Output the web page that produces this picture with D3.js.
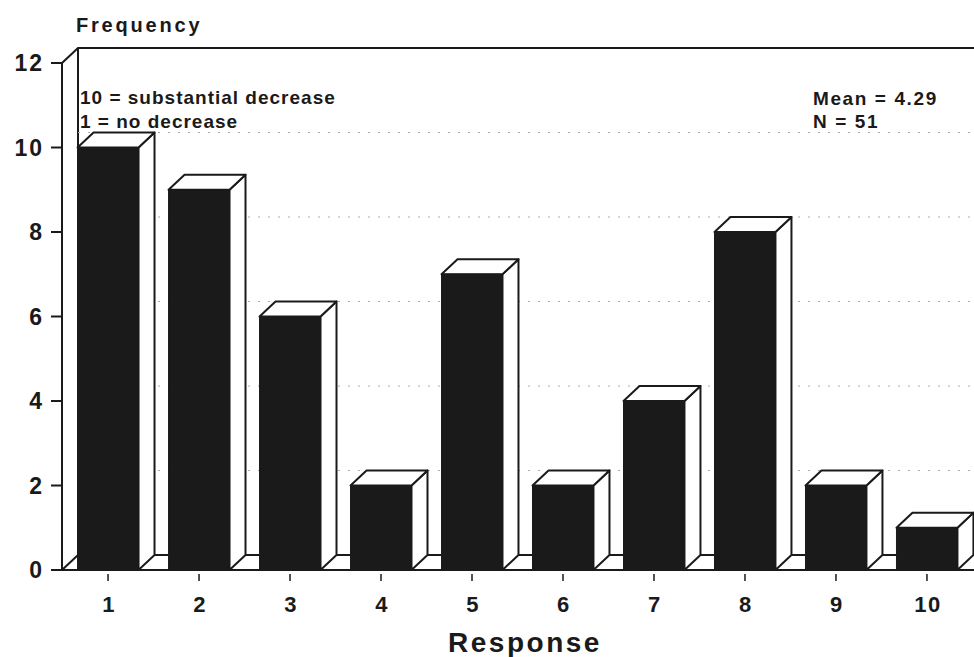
<!DOCTYPE html>
<html>
<head>
<meta charset="utf-8">
<script src="https://cdn.jsdelivr.net/npm/d3@7"></script>
<style>
body{margin:0;background:#fff;}
text{font-family:"Liberation Sans",Arial,sans-serif;font-weight:bold;fill:#1a1a1a;}
</style>
</head>
<body>
<div id="chart"></div>
<script>
// chart data
var categories = ["1","2","3","4","5","6","7","8","9","10"];
var frequency = [10,9,6,2,7,2,4,8,2,1];
var yTicks = [0,2,4,6,8,10,12];
var notesLeft = ["10 = substantial decrease","1 = no decrease"];
var notesRight = ["Mean = 4.29","N = 51"];

var W = 974, H = 657;
var dx = 16, dy = -15; // depth of the 3d look
var ink = "#1a1a1a";

var svg = d3.select("#chart").append("svg")
	.attr("width", W).attr("height", H);

var x = d3.scaleBand().domain(categories).range([63, 972])
	.paddingInner(0.33).paddingOuter(0.16);
var y = d3.scaleLinear().domain([0,12]).range([570, 63]);

// back wall top + left edge
svg.append("path")
	.attr("d", "M" + (62) + "," + y(12) + "L" + (62+dx) + "," + (y(12)+dy)
		+ "H" + (W+10)
		+ "M" + (62+dx) + "," + (y(12)+dy) + "V" + (y(0)+dy))
	.attr("fill", "none").attr("stroke", ink).attr("stroke-width", 2);

// faint dotted grid on back wall
svg.selectAll(".grid").data(yTicks.filter(function(d){return d>0 && d<12;}))
	.enter().append("line")
	.attr("x1", 62+dx).attr("x2", W)
	.attr("y1", function(d){return y(d)+dy;})
	.attr("y2", function(d){return y(d)+dy;})
	.attr("stroke", "#aaa").attr("stroke-width", 1)
	.attr("stroke-dasharray", "2,8");

// floor
svg.append("path")
	.attr("d", "M62," + y(0) + "L" + (62+dx) + "," + (y(0)+dy) + "H" + (W+10)
		+ "M62," + y(0) + "H" + (W+10))
	.attr("fill", "#fff").attr("stroke", ink).attr("stroke-width", 2);

// y axis
svg.append("line").attr("x1", 62).attr("x2", 62)
	.attr("y1", y(12)).attr("y2", y(0))
	.attr("stroke", ink).attr("stroke-width", 2);
svg.selectAll(".ytick").data(yTicks).enter().append("line")
	.attr("x1", 51).attr("x2", 62)
	.attr("y1", function(d){return y(d);}).attr("y2", function(d){return y(d);})
	.attr("stroke", ink).attr("stroke-width", 2);
svg.selectAll(".ylab").data(yTicks).enter().append("text")
	.attr("x", 44).attr("y", function(d){return y(d)+8;})
	.attr("text-anchor", "end").attr("font-size", 23)
	.attr("letter-spacing", 2)
	.text(function(d){return d;});

// bars
var bars = svg.selectAll(".bar").data(frequency).enter().append("g");
var bw = x.bandwidth();
function xb(i){ return x(categories[i]); }

bars.append("path") // side
	.attr("d", function(d,i){
		var x1 = xb(i)+bw, y0 = y(0), yv = y(d);
		return "M"+x1+","+y0+"L"+(x1+dx)+","+(y0+dy)+"L"+(x1+dx)+","+(yv+dy)+"L"+x1+","+yv+"Z";
	})
	.attr("fill", "#fff").attr("stroke", ink).attr("stroke-width", 2).attr("stroke-linejoin", "round");
bars.append("path") // top
	.attr("d", function(d,i){
		var x0 = xb(i), x1 = x0+bw, yv = y(d);
		return "M"+x0+","+yv+"L"+(x0+dx)+","+(yv+dy)+"L"+(x1+dx)+","+(yv+dy)+"L"+x1+","+yv+"Z";
	})
	.attr("fill", "#fff").attr("stroke", ink).attr("stroke-width", 2).attr("stroke-linejoin", "round");
bars.append("rect") // front
	.attr("x", function(d,i){return xb(i);})
	.attr("y", function(d){return y(d);})
	.attr("width", bw)
	.attr("height", function(d){return y(0)-y(d);})
	.attr("fill", ink).attr("stroke", ink).attr("stroke-width", 1);

// x ticks + labels
svg.selectAll(".xtick").data(categories).enter().append("line")
	.attr("x1", function(d){return x(d)+bw/2;}).attr("x2", function(d){return x(d)+bw/2;})
	.attr("y1", 574).attr("y2", 581)
	.attr("stroke", ink).attr("stroke-width", 1.5);
svg.selectAll(".xlab").data(categories).enter().append("text")
	.attr("x", function(d){return x(d)+bw/2+1;}).attr("y", 612)
	.attr("text-anchor", "middle").attr("font-size", 22)
	.attr("letter-spacing", 1.5)
	.text(function(d){return d;});

// titles
svg.append("text").attr("x", 76).attr("y", 32).attr("font-size", 20)
	.attr("letter-spacing", 2.8).text("Frequency");
svg.append("text").attr("x", 525).attr("y", 652).attr("font-size", 28)
	.attr("text-anchor", "middle")
	.attr("letter-spacing", 2.5).text("Response");

// notes
svg.selectAll(".noteL").data(notesLeft).enter().append("text")
	.attr("x", 80).attr("y", function(d,i){return 104+i*24;})
	.attr("font-size", 19).attr("letter-spacing", 1)
	.text(function(d){return d;});
svg.selectAll(".noteR").data(notesRight).enter().append("text")
	.attr("x", 813).attr("y", function(d,i){return 105+i*23;})
	.attr("font-size", 19).attr("letter-spacing", 1.6)
	.text(function(d){return d;});
</script>
</body>
</html>
